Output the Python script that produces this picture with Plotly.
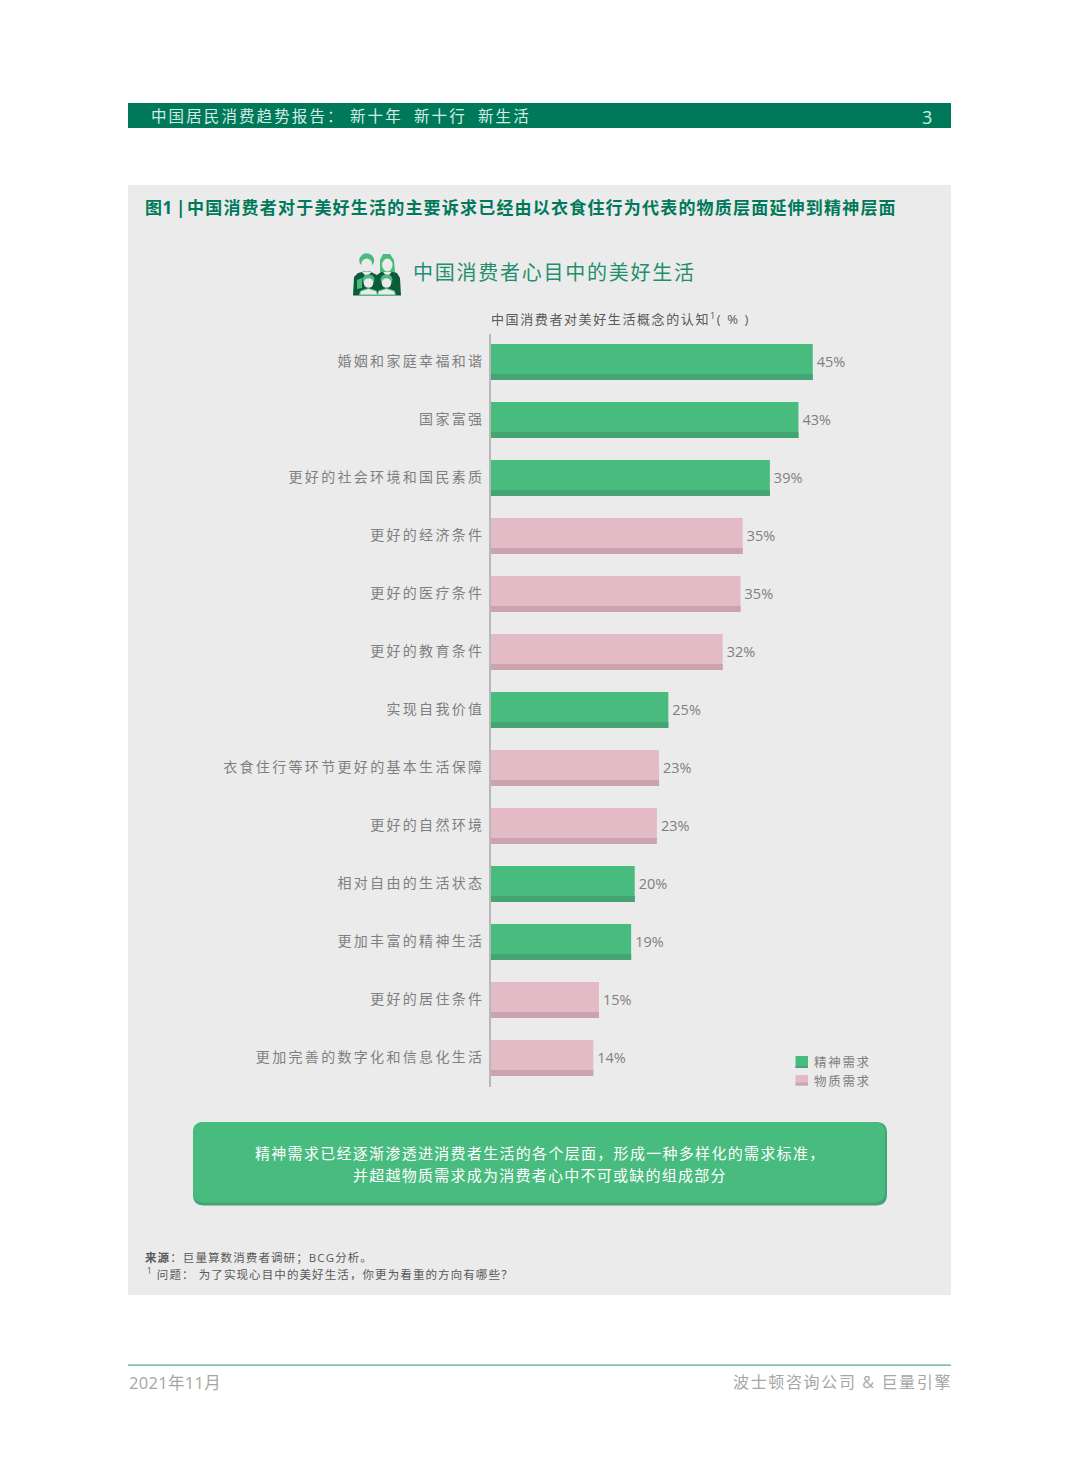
import json
import plotly.graph_objects as go

W, H = 1080, 1465
CJK = "Noto Sans CJK SC"
LATIN = "Open Sans, Noto Sans CJK SC"

categories = ["婚姻和家庭幸福和谐", "国家富强", "更好的社会环境和国民素质", "更好的经济条件",
              "更好的医疗条件", "更好的教育条件", "实现自我价值", "衣食住行等环节更好的基本生活保障",
              "更好的自然环境", "相对自由的生活状态", "更加丰富的精神生活", "更好的居住条件",
              "更加完善的数字化和信息化生活"]
values = [45.0, 43.0, 39.0, 35.2, 34.9, 32.4, 24.8, 23.5, 23.2, 20.1, 19.6, 15.1, 14.3]
labels = ["45%", "43%", "39%", "35%", "35%", "32%", "25%", "23%", "23%", "20%", "19%", "15%", "14%"]
groups = ["精神", "精神", "精神", "物质", "物质", "物质", "精神", "物质", "物质", "精神", "精神", "物质", "物质"]

GREEN, GREEN_D = "#48bb7e", "#44a473"
PINK, PINK_D = "#e4bac6", "#cba3ae"
PANEL = "#ebebeb"
HEADER = "#00795a"
TEAL = "#1f8f6f"


def px(x):
    return x / W


def py(y):
    return 1 - y / H


def rect(x0, y0, x1, y1, color, layer="below"):
    return dict(type="rect", xref="paper", yref="paper", x0=px(x0), x1=px(x1), y0=py(y0), y1=py(y1),
                fillcolor=color, line_width=0, layer=layer)


def circle(cx, cy, rx, ry, color, line=None):
    return dict(type="circle", xref="paper", yref="paper", x0=px(cx - rx), x1=px(cx + rx),
                y0=py(cy - ry), y1=py(cy + ry), fillcolor=color,
                line=dict(color=line or color, width=1 if line else 0), layer="above")


def path(points, color, line=None):
    d = "M" + " L".join(f"{px(x):.5f},{py(y):.5f}" for x, y in points) + " Z"
    return dict(type="path", xref="paper", yref="paper", path=d, fillcolor=color,
                line=dict(color=line or color, width=1 if line else 0), layer="above")


def round_rect(x0, y0, x1, y1, r, color):
    def P(x, y):
        return f"{px(x):.5f},{py(y):.5f}"
    d = (f"M{P(x0 + r, y0)} L{P(x1 - r, y0)} Q{P(x1, y0)} {P(x1, y0 + r)} L{P(x1, y1 - r)} "
         f"Q{P(x1, y1)} {P(x1 - r, y1)} L{P(x0 + r, y1)} Q{P(x0, y1)} {P(x0, y1 - r)} "
         f"L{P(x0, y0 + r)} Q{P(x0, y0)} {P(x0 + r, y0)} Z")
    return dict(type="path", xref="paper", yref="paper", path=d, fillcolor=color, line_width=0, layer="below")


shapes = [
    rect(128, 103, 951, 128, HEADER),
    rect(128, 185, 951, 1295, PANEL),
    round_rect(193, 1122, 887, 1205.5, 11, GREEN_D),
    round_rect(193, 1122, 885, 1202.5, 11, GREEN),
    rect(128, 1364.5, 951, 1365.8, "#5aa78f"),
    rect(795.5, 1056, 808, 1068, GREEN),
    rect(795.5, 1066, 808, 1068, GREEN_D),
    rect(795.5, 1075, 808, 1085.5, PINK),
    rect(795.5, 1082.5, 808, 1085.5, PINK_D),
]

# family icon
DK = "#0c5c3c"
LT = "#49bb7d"
shapes += [
    path([(353, 295.5), (354, 277), (358, 273), (364, 271.5), (370, 271.5), (377, 275), (381, 272),
          (392, 271.5), (397, 273), (400, 278), (401, 295.5)], DK),
    circle(366.7, 260.5, 7.5, 7.2, LT),
    path([(380, 272), (380, 260), (383, 254), (390, 254), (394, 260), (395, 272)], LT),
    circle(366.7, 265, 5.6, 6.6, PANEL),
    circle(387.3, 265, 5.2, 6.4, PANEL),
    path([(362, 272), (371.5, 272), (366.7, 277)], PANEL),
    path([(383, 272), (391.5, 272), (387.3, 277)], PANEL),
    path([(357, 280), (362, 278), (362, 288), (357, 289)], LT),
    circle(368.5, 279.5, 6, 5.2, LT),
    circle(386.5, 279.5, 6, 5.2, LT),
    circle(368.5, 283, 4.8, 4.8, PANEL),
    circle(386.5, 283, 4.8, 4.8, PANEL),
    path([(359.5, 295), (360.5, 291), (368.5, 288.5), (376.5, 291), (377.5, 295)], PANEL, LT),
    path([(377.5, 295), (378.5, 291), (386.5, 288.5), (394.5, 291), (395.5, 295)], PANEL, LT),
]

# (text, left px, centre y px, size, colour, bold, letter spacing)
HEAD = "#d5ece4"
GREY = "#7f7f7f"
NOTE = "#595959"
texts = [
    ("中国居民消费趋势报告：", 150, 115.5, 15.5, HEAD, False, 2.1),
    ("新十年", 349, 115.5, 15.5, HEAD, False, 2.1),
    ("新十行", 413, 115.5, 15.5, HEAD, False, 2.1),
    ("新生活", 477, 115.5, 15.5, HEAD, False, 2.1),
    ("3", 921, 116.5, 18, HEAD, False, 0),
    ("图1", 144, 207.5, 17, HEADER, True, 0.6),
    ("|", 174.5, 207.5, 17, HEADER, True, 0),
    ("中国消费者对于美好生活的主要诉求已经由以衣食住行为代表的物质层面延伸到精神层面", 186, 207.5, 17, HEADER, True, 1.2),
    ("中国消费者心目中的美好生活", 412, 272.5, 20, TEAL, False, 1.75),
    ("中国消费者对美好生活概念的认知<sup>1</sup>( % )", 490, 318, 13, NOTE, False, 1.6),
    ("精神需求", 813, 1062.5, 12.5, GREY, False, 1.7),
    ("物质需求", 813, 1081, 12.5, GREY, False, 1.7),
    ("精神需求已经逐渐渗透进消费者生活的各个层面，形成一种多样化的需求标准，", 254, 1153, 15, "#ffffff", False, 1.3),
    ("并超越物质需求成为消费者心中不可或缺的组成部分", 352, 1175, 15, "#ffffff", False, 1.25),
    ("<b>来源</b>：巨量算数消费者调研；BCG分析。", 144, 1257.5, 11.5, NOTE, False, 1.1),
    ("<sup>1</sup> 问题： 为了实现心目中的美好生活，你更为看重的方向有哪些？", 146, 1273.5, 11.5, NOTE, False, 1.1),
    ("2021年11月", 128, 1382, 16.5, "#a6a6a6", False, 0.3),
    ("波士顿咨询公司 & 巨量引擎", 732, 1382, 16, "#a6a6a6", False, 1.65),
]

annotations = []
for t, x, y, size, color, bold, sp in texts:
    annotations.append(dict(text=f"<b>{t}</b>" if bold else t, xref="paper", yref="paper", x=px(x), y=py(y),
                            xanchor="left", yanchor="middle", align="left", showarrow=False, borderpad=0,
                            font=dict(family=LATIN, size=size, color=color)))


def pick(seq, grp):
    return [v for v, g in zip(seq, groups) if g == grp]


fig = go.Figure()
for grp, name, main, dark in [("精神", "精神需求", GREEN, GREEN_D), ("物质", "物质需求", PINK, PINK_D)]:
    fig.add_trace(go.Bar(
        y=pick(categories, grp), x=pick(values, grp), name=name, orientation="h",
        width=36 / 58, offset=-18 / 58, marker=dict(color=main, line_width=0),
        text=pick(labels, grp), textposition="outside", cliponaxis=False,
        textfont=dict(family=LATIN, size=14.5, color=GREY), showlegend=False,
    ))
    fig.add_trace(go.Bar(
        y=pick(categories, grp), x=pick(values, grp), orientation="h",
        width=6 / 58, offset=12 / 58, marker=dict(color=dark, line_width=0),
        showlegend=False, hoverinfo="skip",
    ))

fig.update_layout(
    width=W, height=H, autosize=False, margin=dict(l=0, r=0, t=0, b=0),
    paper_bgcolor="#ffffff", plot_bgcolor="rgba(0,0,0,0)", barmode="overlay", showlegend=False,
    shapes=shapes, annotations=annotations, font=dict(family=CJK),
    xaxis=dict(domain=[px(491), px(951)], range=[0, (951 - 491) / 7.15], visible=False, fixedrange=True),
    yaxis=dict(domain=[py(1087), py(334)], range=[12.5, -28 / 58], type="category",
               categoryorder="array", categoryarray=categories, showgrid=False, zeroline=False,
               showline=True, linecolor="#b8b8b8", linewidth=1.5, ticks="outside", ticklen=2,
               tickcolor="rgba(0,0,0,0)", tickfont=dict(family=CJK, size=14, color=GREY),
               automargin=False, fixedrange=True),
)

spacing = [t[6] for t in texts]
post = """
document.body.style.margin='0';
var sp=%s;
document.querySelectorAll('.annotation').forEach(function(a){
  var i=+a.getAttribute('data-index');
  var t=a.querySelector('text');
  if(t){t.style.letterSpacing=sp[i]+'px';}
});
document.querySelectorAll('.ytick text').forEach(function(t){t.style.letterSpacing='2.33px';t.setAttribute('dy','-0.5');});
document.querySelectorAll('.bartext').forEach(function(t){t.setAttribute('dx','1');t.setAttribute('dy','-0.5');});
""" % json.dumps(spacing)

fig.write_html("out.html", post_script=post, config=dict(displayModeBar=False))
